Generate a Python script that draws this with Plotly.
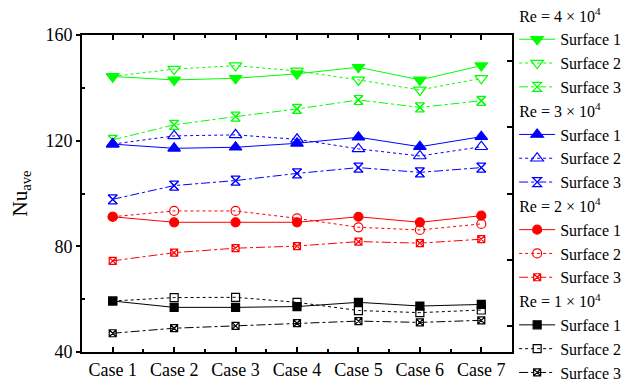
import plotly.graph_objects as go

cases = ["Case 1", "Case 2", "Case 3", "Case 4", "Case 5", "Case 6", "Case 7"]
x_pos = [1, 2, 3, 4, 5, 6, 7]

re4_s1 = [144.3, 143.0, 143.6, 145.3, 147.8, 143.0, 148.4]
re4_s2 = [144.3, 147.1, 148.4, 146.4, 143.0, 139.2, 143.6]
re4_s3 = [120.3, 126.0, 129.1, 132.0, 135.4, 132.6, 135.1]
re3_s1 = [118.7, 117.1, 117.5, 119.0, 121.3, 117.7, 121.5]
re3_s2 = [118.7, 121.8, 122.2, 120.5, 116.9, 114.2, 117.7]
re3_s3 = [97.8, 103.0, 104.9, 107.6, 109.8, 108.0, 109.8]
re2_s1 = [91.2, 89.1, 89.1, 89.1, 91.2, 89.1, 91.6]
re2_s2 = [91.2, 93.4, 93.4, 90.6, 87.2, 86.2, 88.5]
re2_s3 = [74.5, 77.6, 79.3, 80.1, 81.8, 81.2, 82.7]
re1_s1 = [59.3, 56.9, 56.9, 57.2, 58.8, 57.4, 58.0]
re1_s2 = [59.3, 60.6, 60.7, 58.8, 55.7, 54.9, 55.9]
re1_s3 = [47.1, 49.0, 49.9, 50.9, 51.7, 51.2, 52.0]

groups = [
    ("re4", "Re = 4 × 10<sup>4</sup>", "#00ff00", [re4_s1, re4_s2, re4_s3],
     ["triangle-down", "triangle-down-open", "hourglass-open"], [11, 11, 9]),
    ("re3", "Re = 3 × 10<sup>4</sup>", "#0000ff", [re3_s1, re3_s2, re3_s3],
     ["triangle-up", "triangle-up-open", "hourglass-open"], [11, 11, 9]),
    ("re2", "Re = 2 × 10<sup>4</sup>", "#ff0000", [re2_s1, re2_s2, re2_s3],
     ["circle", "circle-open", "square-x-open"], [9, 9, 7]),
    ("re1", "Re = 1 × 10<sup>4</sup>", "#000000", [re1_s1, re1_s2, re1_s3],
     ["square", "square-open", "square-x-open"], [8, 8, 7]),
]
dashes = ["solid", "dot", "dashdot"]
names = ["Surface 1", "Surface 2", "Surface 3"]
FONT = "Liberation Serif"
LEG = 16

fig = go.Figure()
for gid, title, col, series, syms, sizes in groups:
    for i in range(3):
        fig.add_trace(go.Scatter(
            x=x_pos, y=series[i], mode="lines+markers", name=names[i],
            legendgroup=gid,
            legendgrouptitle=dict(text=title, font=dict(family=FONT, size=LEG, color="black")) if i == 0 else None,
            line=dict(color=col, width=1, dash=dashes[i]),
            marker=dict(symbol=syms[i], size=sizes[i], color=col,
                        line=dict(color=col, width=1.2)),
        ))
        if syms[i] == "hourglass-open":
            fig.add_trace(go.Scatter(
                x=x_pos, y=series[i], mode="markers", showlegend=False,
                legendgroup=gid,
                marker=dict(symbol="x-thin-open", size=9, color=col,
                            line=dict(color=col, width=1.2)),
            ))

fig.update_layout(
    width=644, height=385,
    margin=dict(l=82, r=132, t=35, b=33, autoexpand=False),
    paper_bgcolor="white", plot_bgcolor="white",
    font=dict(family=FONT, size=18, color="black"),
    showlegend=True,
    legend=dict(x=1.005, y=1.115, xanchor="left", yanchor="top",
                font=dict(family=FONT, size=LEG, color="black"),
                grouptitlefont=dict(family=FONT, size=LEG, color="black"),
                tracegroupgap=0, traceorder="grouped", maxheight=600,
                itemwidth=36,
                bgcolor="rgba(0,0,0,0)"),
    xaxis=dict(range=[0.5, 7.5], tickmode="array", tickvals=x_pos, ticktext=cases,
               showline=True, linecolor="black", linewidth=2, mirror="ticks",
               ticks="inside", ticklen=5, tickwidth=1.5, tickcolor="black",
               showgrid=False, zeroline=False,
               minor=dict(tickvals=[1.5, 2.5, 3.5, 4.5, 5.5, 6.5], ticks="inside",
                          ticklen=3, tickwidth=1.5, tickcolor="black")),
    yaxis=dict(range=[40, 160], tickmode="array", tickvals=[40, 80, 120, 160],
               showline=True, linecolor="black", linewidth=2, mirror=False,
               ticks="outside", ticklen=4, tickwidth=1.5, tickcolor="black",
               showgrid=False, zeroline=False,
               title=dict(text="Nu<sub>ave</sub>", font=dict(size=21), standoff=12),
               minor=dict(tickvals=[60, 100, 140], ticks="inside", ticklen=3,
                          tickwidth=1.5, tickcolor="black")),
    yaxis2=dict(range=[40, 160], overlaying="y", side="right", anchor="x",
                tickmode="array", tickvals=[50, 75, 100, 125, 150], showticklabels=False,
                showline=True, linecolor="black", linewidth=2,
                ticks="inside", ticklen=5, tickwidth=1.5, tickcolor="black",
                showgrid=False, zeroline=False),
)
fig.add_trace(go.Scatter(x=[1], y=[100], yaxis="y2", mode="markers",
                         marker=dict(opacity=0), showlegend=False, hoverinfo="skip"))

fig.write_html("out.html")
